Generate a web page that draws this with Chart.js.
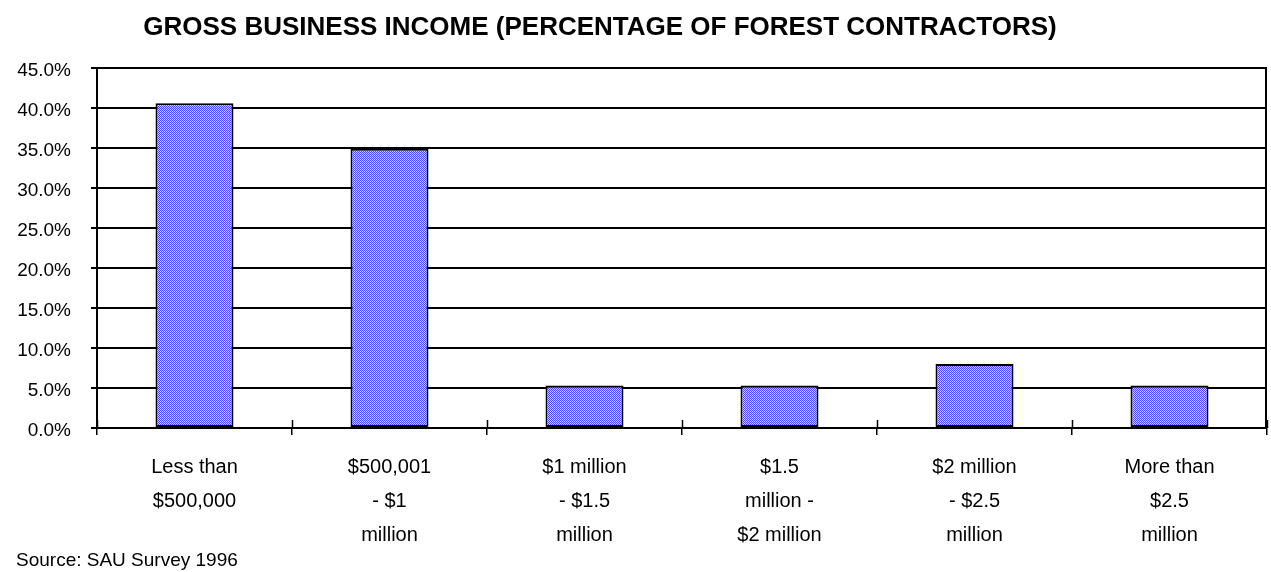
<!DOCTYPE html>
<html>
<head>
<meta charset="utf-8">
<title>Gross Business Income</title>
<script src="https://cdn.jsdelivr.net/npm/chart.js@4"></script>
<style>
    html, body { margin: 0; padding: 0; background: #fff; }
    #wrap { width: 1271px; height: 572px; position: relative; }
</style>
</head>
<body>
<div id="wrap"><canvas id="ingresosChart" width="1271" height="572"></canvas></div>
<script>
// ======= Datos =======
const categorias = [
    ['Less than', '$500,000'],
    ['$500,001', '- $1', 'million'],
    ['$1 million', '- $1.5', 'million'],
    ['$1.5', 'million -', '$2 million'],
    ['$2 million', '- $2.5', 'million'],
    ['More than', '$2.5', 'million']
];
const porcentajes = [40.6, 34.9, 5.3, 5.3, 8.0, 5.3];
const ejeY = { min: 0, max: 45, paso: 5 };

const titulo = 'GROSS BUSINESS INCOME (PERCENTAGE OF FOREST CONTRACTORS)';
const fuente = 'Source: SAU Survey 1996';

const FONT = "'Liberation Sans', Arial, sans-serif";

// ======= Relleno punteado de las barras =======
function crearTrama() {
    const c = document.createElement('canvas');
    c.width = 2;
    c.height = 2;
    const g = c.getContext('2d');
    g.fillStyle = '#d0d0ff';
    g.fillRect(0, 0, 2, 2);
    g.fillStyle = '#4444ff';
    g.fillRect(0, 0, 1, 1);
    g.fillRect(1, 1, 1, 1);
    return g.createPattern(c, 'repeat');
}

// ======= Titulo, fuente, marco derecho y marcas del eje X =======
const extras = {
    id: 'extras',
    afterDraw(chart) {
        const ctx = chart.ctx;
        const area = chart.chartArea;
        const x = chart.scales.x;
        ctx.save();
        ctx.strokeStyle = '#000';
        ctx.lineWidth = 2;

        // borde derecho del area de trazado
        ctx.beginPath();
        ctx.moveTo(area.right - 1, area.top);
        ctx.lineTo(area.right - 1, area.bottom);
        ctx.stroke();

        // parte superior de las marcas que cruzan el eje X
        const n = categorias.length;
        const paso = (x.right - x.left) / n;
        ctx.lineWidth = 1.5;
        for (let i = 0; i <= n; i++) {
            const px = Math.round(x.left + i * paso) + 0.5;
            ctx.beginPath();
            ctx.moveTo(px, area.bottom - 8);
            ctx.lineTo(px, area.bottom);
            ctx.stroke();
        }

        ctx.fillStyle = '#000';
        ctx.textBaseline = 'alphabetic';
        ctx.font = 'bold 26px ' + FONT;
        ctx.textAlign = 'center';
        ctx.fillText(titulo, 600, 35);

        ctx.font = '19px ' + FONT;
        ctx.textAlign = 'left';
        ctx.fillText(fuente, 16, 566);
        ctx.restore();
    }
};

const ctx = document.getElementById('ingresosChart').getContext('2d');
const chart = new Chart(ctx, {
    type: 'bar',
    data: {
        labels: categorias,
        datasets: [{
            data: porcentajes,
            backgroundColor: crearTrama(),
            borderColor: '#000',
            borderWidth: 2,
            borderSkipped: false,
            barPercentage: 0.4,
            categoryPercentage: 1
        }]
    },
    options: {
        responsive: false,
        animation: false,
        layout: {
            padding: { top: 68, right: 4, bottom: 0, left: 0 }
        },
        plugins: {
            legend: { display: false },
            title: { display: false },
            tooltip: { enabled: false }
        },
        scales: {
            x: {
                afterFit: s => { s.height = 144; },
                grid: {
                    display: true,
                    drawOnChartArea: false,
                    drawTicks: true,
                    tickLength: 7,
                    color: '#000',
                    lineWidth: 1.5
                },
                border: { display: true, color: '#000', width: 2 },
                ticks: {
                    color: '#000',
                    padding: 15,
                    maxRotation: 0,
                    autoSkip: false,
                    font: { family: FONT, size: 20, lineHeight: 1.7 }
                }
            },
            y: {
                min: ejeY.min,
                max: ejeY.max,
                afterFit: s => { s.width = 97; },
                grid: {
                    color: '#000',
                    lineWidth: 2,
                    tickLength: 6
                },
                border: { display: true, color: '#000', width: 2 },
                ticks: {
                    stepSize: ejeY.paso,
                    color: '#000',
                    padding: 20,
                    labelOffset: 3,
                    font: { family: FONT, size: 19 },
                    callback: v => v.toFixed(1) + '%'
                }
            }
        }
    },
    plugins: [extras]
});
</script>
</body>
</html>
